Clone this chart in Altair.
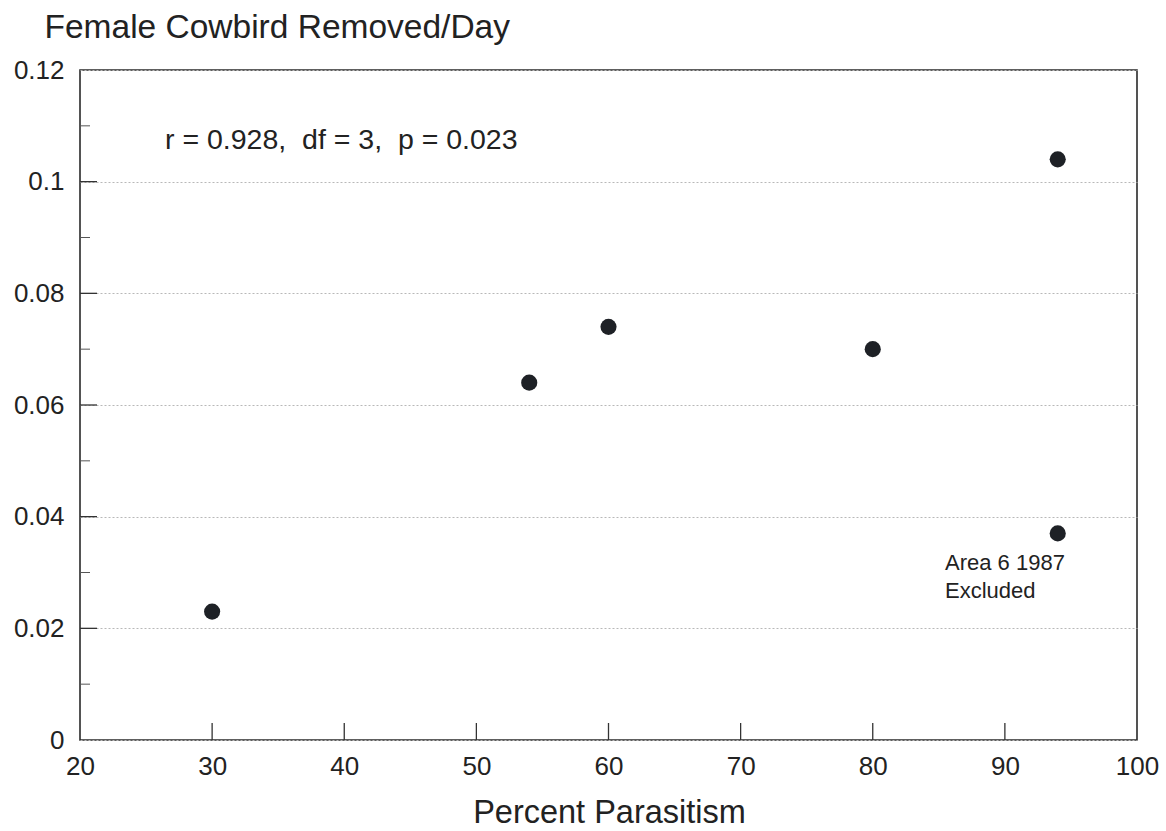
import altair as alt
import pandas as pd

# Data
pct_parasitism = [30, 54, 60, 80, 94, 94]
cowbird_per_day = [0.023, 0.064, 0.074, 0.070, 0.104, 0.037]

x_tick_values = [20, 30, 40, 50, 60, 70, 80, 90, 100]
y_tick_values = [0, 0.02, 0.04, 0.06, 0.08, 0.10, 0.12]
x_inner_ticks = [30, 40, 50, 60, 70, 80, 90]
y_major_inner = [0.02, 0.04, 0.06, 0.08, 0.10]
y_minor_inner = [0.01, 0.03, 0.05, 0.07, 0.09, 0.11]

stats_text = ["r = 0.928,\u00a0\u00a0df = 3,\u00a0\u00a0p = 0.023"]
excluded_line1 = ["Area 6 1987"]
excluded_line2 = ["Excluded"]

FONT = "Liberation Sans"
INK = "#222222"

pts = pd.DataFrame({"pct": pct_parasitism, "rate": cowbird_per_day})

xs = alt.Scale(domain=[20, 100], nice=False)
ys = alt.Scale(domain=[0, 0.12], nice=False)

x_axis = alt.Axis(values=x_tick_values, title="Percent Parasitism",
                  grid=False, ticks=False, domain=False,
                  labelFont=FONT, labelFontSize=26, labelColor=INK,
                  labelPadding=13, labelFlush=False,
                  titleFont=FONT, titleFontSize=32.5, titleFontWeight="normal",
                  titleColor=INK, titleBaseline="alphabetic",
                  titleY=82, titleX=529)
y_axis = alt.Axis(values=y_tick_values,
                  labelExpr="datum.value == 0 ? '0' : format(datum.value, '.2~f')",
                  title="Female Cowbird Removed/Day",
                  grid=True, gridColor="#b8b8b8", gridDash=[2, 2], gridWidth=1,
                  ticks=False, domain=False,
                  labelFont=FONT, labelFontSize=26, labelColor=INK,
                  labelPadding=16, labelFlush=False,
                  titleFont=FONT, titleFontSize=33.5, titleFontWeight="normal",
                  titleColor=INK, titleAngle=0, titleAlign="left",
                  titleBaseline="alphabetic", titleX=-36, titleY=-33)

points = alt.Chart(pts).mark_circle(size=260, color="#1e2126", opacity=1).encode(
    x=alt.X("pct:Q", scale=xs, axis=x_axis),
    y=alt.Y("rate:Q", scale=ys, axis=y_axis),
)

xt = alt.Chart(pd.DataFrame({"pct": x_inner_ticks})).mark_rule(color="#333333", strokeWidth=1.3).encode(
    x=alt.X("pct:Q", scale=xs, axis=x_axis), y=alt.value(670), y2=alt.value(653))
ytm = alt.Chart(pd.DataFrame({"rate": y_major_inner})).mark_rule(color="#333333", strokeWidth=1.3).encode(
    y=alt.Y("rate:Q", scale=ys, axis=y_axis), x=alt.value(0), x2=alt.value(17))
ytn = alt.Chart(pd.DataFrame({"rate": y_minor_inner})).mark_rule(color="#555555", strokeWidth=1).encode(
    y=alt.Y("rate:Q", scale=ys, axis=y_axis), x=alt.value(0), x2=alt.value(10))

stats = alt.Chart(pd.DataFrame({"t": stats_text})).mark_text(
    font=FONT, fontSize=28.5, color=INK, align="left", baseline="middle").encode(
    text="t:N", x=alt.value(85), y=alt.value(70))

excl1 = alt.Chart(pd.DataFrame({"t": excluded_line1})).mark_text(
    font=FONT, fontSize=22, color=INK, align="left", baseline="middle").encode(
    text="t:N", x=alt.value(865), y=alt.value(493))
excl2 = alt.Chart(pd.DataFrame({"t": excluded_line2})).mark_text(
    font=FONT, fontSize=22, color=INK, align="left", baseline="middle").encode(
    text="t:N", x=alt.value(865), y=alt.value(521))

chart = alt.layer(points, ytn, ytm, xt, stats, excl1, excl2).properties(
    width=1057, height=670,
    autosize=alt.AutoSizeParams(type="none"),
    padding={"left": 80, "top": 70, "right": 29, "bottom": 91},
    background="white",
).configure_view(stroke="#2a2a2a", strokeWidth=1.6)

chart.save("out.html", embed_options={"renderer": "svg", "actions": False})
